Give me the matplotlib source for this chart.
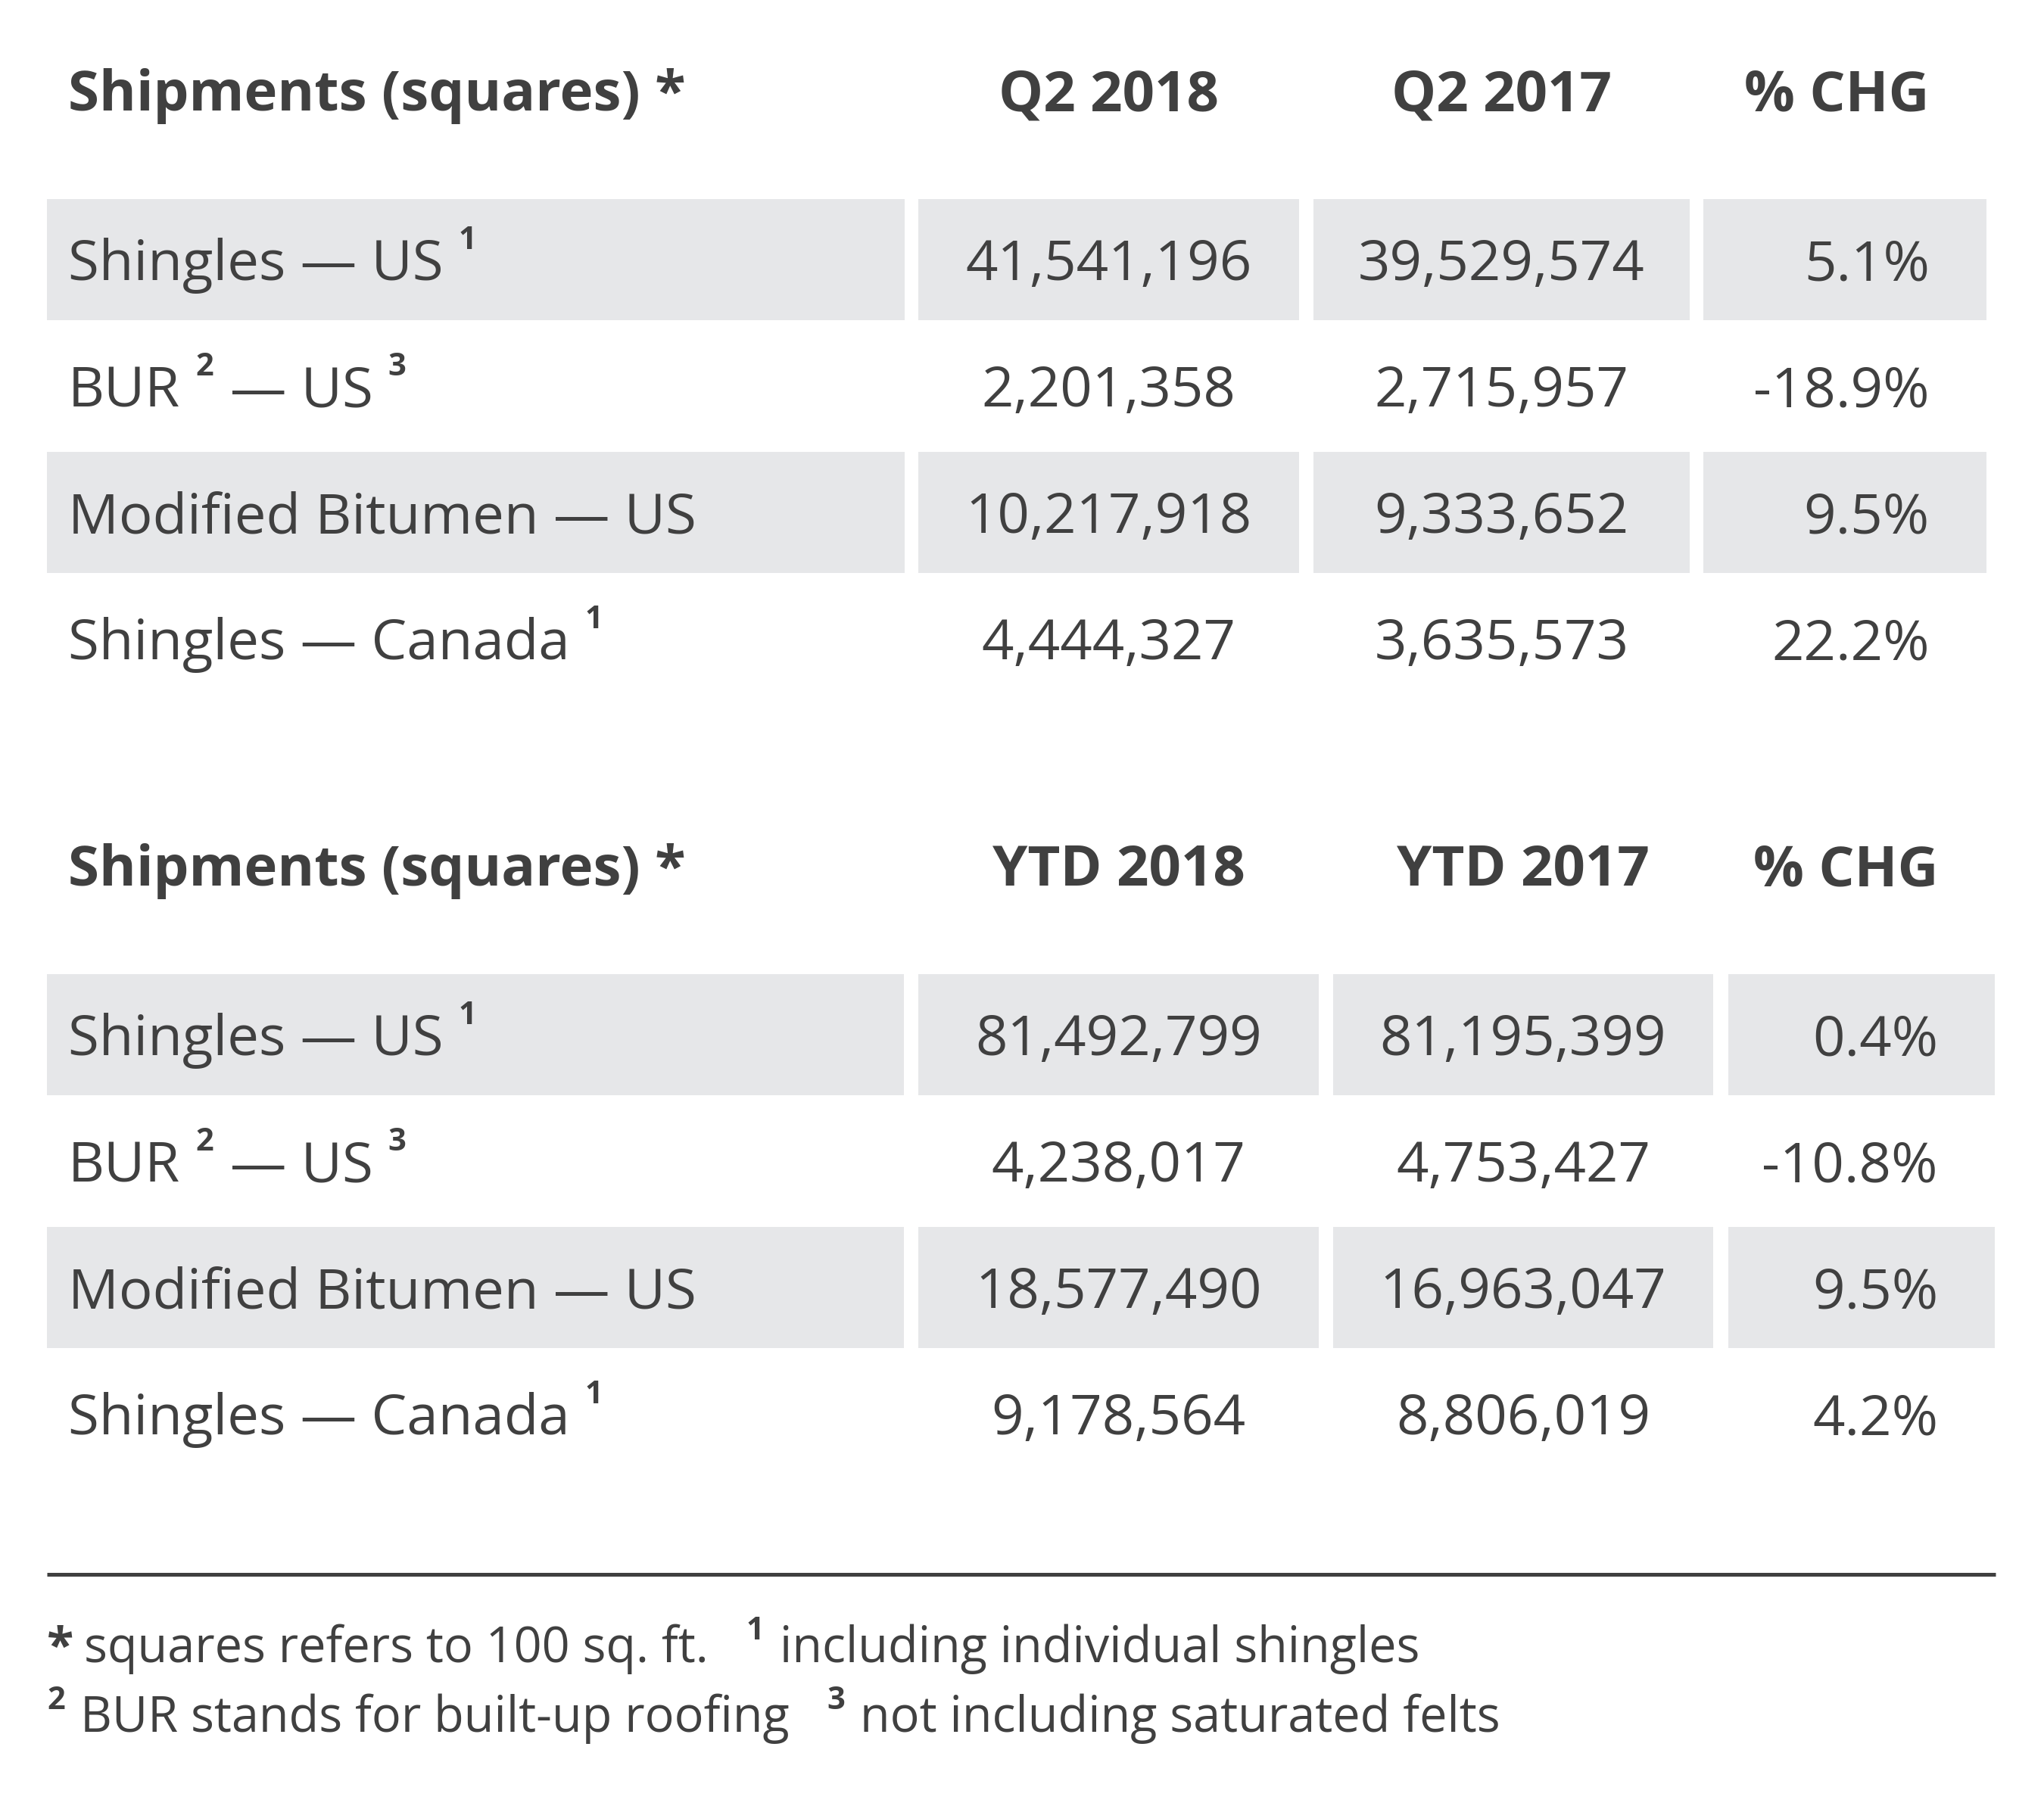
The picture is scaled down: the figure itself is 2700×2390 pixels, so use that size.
import matplotlib
matplotlib.use("Agg")
import matplotlib.pyplot as plt
from matplotlib.patches import Rectangle

# ---------------------------------------------------------------- data
row_labels = [
    [("Shingles — US", "1")],
    [("BUR", "2"), ("— US", "3")],
    [("Modified Bitumen — US", "")],
    [("Shingles — Canada", "1")],
]

q2_headers = ["Shipments (squares) *", "Q2 2018", "Q2 2017", "% CHG"]
q2_2018 = [41541196, 2201358, 10217918, 4444327]
q2_2017 = [39529574, 2715957, 9333652, 3635573]
q2_chg = [5.1, -18.9, 9.5, 22.2]

ytd_headers = ["Shipments (squares) *", "YTD 2018", "YTD 2017", "% CHG"]
ytd_2018 = [81492799, 4238017, 18577490, 9178564]
ytd_2017 = [81195399, 4753427, 16963047, 8806019]
ytd_chg = [0.4, -10.8, 9.5, 4.2]

footnotes = [
    [("*", "star"), ("squares refers to 100 sq. ft.", "text"),
     ("1", "sup"), ("including individual shingles", "text")],
    [("2", "sup"), ("BUR stands for built-up roofing", "text"),
     ("3", "sup"), ("not including saturated felts", "text")],
]

# ---------------------------------------------------------------- style
FONT = ["Open Sans", "DejaVu Sans"]
TXT = "#404040"
BAND = "#e6e7e9"
BODY = 53.6
SUP = 30
NOTE = 46.6

W, H = 2700, 2390
fig = plt.figure(figsize=(W / 100, H / 100), dpi=100)
ax = fig.add_axes([0, 0, 1, 1])
ax.set_xlim(0, W)
ax.set_ylim(H, 0)
ax.axis("off")
renderer = fig.canvas.get_renderer()


def put(x, y, s, size, weight="normal", ha="left"):
    t = ax.text(x, y, s, fontsize=size, fontweight=weight, color=TXT,
                ha=ha, va="baseline", family=FONT)
    return t.get_window_extent(renderer).width


def draw_label(x, y, parts):
    # label text followed by bold superscript footnote marks
    for k, (txt, sup) in enumerate(parts):
        if k > 0:
            x += 22
        x += put(x, y, txt, BODY)
        if sup:
            x += 20
            x += put(x, y - 41, sup, SUP, "bold")


def draw_table(c0, headers, cols, v1, v2, chg):
    pitch = 167
    band_h = 160
    pad_l, pad_r = 28, 75
    xl = cols[0][0] + pad_l
    xc1 = (cols[1][0] + cols[1][1]) / 2
    xc2 = (cols[2][0] + cols[2][1]) / 2
    xr = cols[3][1] - pad_r

    hy = c0 - 197
    put(xl, hy, headers[0], BODY, "bold")
    put(xc1, hy, headers[1], BODY, "bold", "center")
    put(xc2, hy, headers[2], BODY, "bold", "center")
    put(xr, hy, headers[3], BODY, "bold", "right")

    for i in range(len(v1)):
        cy = c0 + i * pitch
        if i % 2 == 0:
            for a, b in cols:
                ax.add_patch(Rectangle((a, cy - band_h / 2), b - a, band_h,
                                       facecolor=BAND, edgecolor="none"))
        by = cy + 27
        draw_label(xl, by, row_labels[i])
        put(xc1, by, f"{v1[i]:,}", BODY, ha="center")
        put(xc2, by, f"{v2[i]:,}", BODY, ha="center")
        put(xr, by, f"{chg[i]:.1f}%", BODY, ha="right")


draw_table(343, q2_headers,
           [(62, 1195), (1213, 1716), (1735, 2232), (2250, 2624)],
           q2_2018, q2_2017, q2_chg)
draw_table(1367, ytd_headers,
           [(62, 1194), (1213, 1742), (1761, 2263), (2283, 2635)],
           ytd_2018, ytd_2017, ytd_chg)

# divider
ax.plot([62, 2636], [2080, 2080], color=TXT, lw=3.6, solid_capstyle="butt")

# footnotes
for j, runs in enumerate(footnotes):
    x = 62
    y = 2196 + j * 92
    prev = None
    for txt, kind in runs:
        if kind == "star":
            x += put(x, y, txt, NOTE, "bold")
        elif kind == "sup":
            if prev == "text":
                x += 50
            x += put(x, y - 30, txt, SUP, "bold")
        else:
            x += 20 if prev == "sup" else 14
            x += put(x, y, txt, NOTE)
        prev = kind

fig.savefig("out.png", dpi=100, facecolor="white")
